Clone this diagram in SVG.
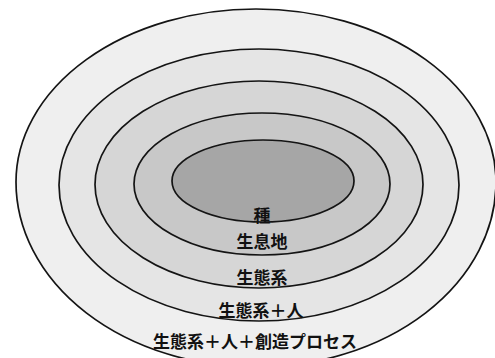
<svg xmlns="http://www.w3.org/2000/svg" width="495" height="358" viewBox="0 0 495 358">
<style>
.ring{stroke:#141414;stroke-width:1.7;}
.lbl{font-family:"Noto Sans CJK JP","Noto Sans CJK SC",sans-serif;font-size:17px;font-weight:bold;fill:#111;text-anchor:middle;dominant-baseline:central;}
</style>
<rect width="495" height="358" fill="#ffffff"/>
<g id="node-ecosystem-human-creative">
<path class="ring" fill="#efefef" d="M16,182 A240,173 0 0 1 496,182 A240,185 0 0 1 16,182 Z"/>
</g>
<g id="node-ecosystem-human">
<ellipse class="ring" fill="#e5e5e5" cx="259" cy="185" rx="200" ry="136"/>
</g>
<g id="node-ecosystem">
<ellipse class="ring" fill="#d6d6d6" cx="259" cy="184.5" rx="164" ry="103.5"/>
</g>
<g id="node-habitat">
<ellipse class="ring" fill="#c8c8c8" cx="262" cy="184" rx="128" ry="71"/>
</g>
<g id="node-species">
<ellipse class="ring" fill="#a6a6a6" cx="263" cy="181" rx="91" ry="41"/>
</g>
<g id="labels">
<text class="lbl" x="262" y="214">種</text>
<text class="lbl" x="262" y="240">生息地</text>
<text class="lbl" x="262" y="276">生態系</text>
<text class="lbl" x="261" y="309">生態系＋人</text>
<text class="lbl" x="255" y="340">生態系＋人＋創造プロセス</text>
</g>
<g id="connectors"></g>
</svg>
